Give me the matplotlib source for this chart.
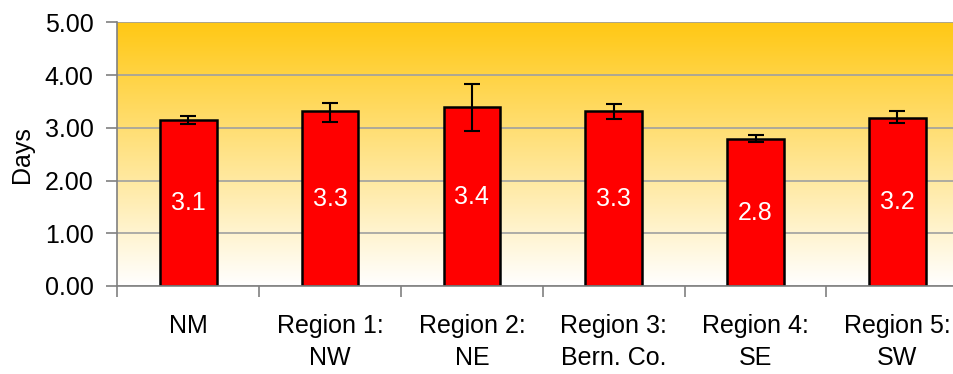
import numpy as np
import matplotlib
matplotlib.use("Agg")
import matplotlib.pyplot as plt
from matplotlib.colors import LinearSegmentedColormap

plt.rcParams['font.family'] = ['Liberation Sans', 'DejaVu Sans']

categories = ["NM", "Region 1:\nNW", "Region 2:\nNE", "Region 3:\nBern. Co.", "Region 4:\nSE", "Region 5:\nSW"]
days = [3.14, 3.31, 3.39, 3.31, 2.78, 3.18]
err_low = [0.07, 0.20, 0.45, 0.15, 0.05, 0.09]
err_high = [0.09, 0.16, 0.44, 0.14, 0.08, 0.13]
yticks = [0, 1, 2, 3, 4, 5]

FS = 18

fig = plt.figure(figsize=(9.54, 3.74), dpi=100)
ax = fig.add_axes([0.123, 0.2353, 0.892, 0.7051])

# background gradient: golden at the top fading to white at the bottom
cmap = LinearSegmentedColormap.from_list("bg", ["#FFFFFF", "#FFC814"])
grad = np.linspace(0, 1, 256).reshape(-1, 1)
ax.imshow(grad, cmap=cmap, origin="lower", aspect="auto",
          extent=[0, 1, 0, 1], transform=ax.transAxes, zorder=0)

x = np.arange(len(categories))
bars = ax.bar(x, days, width=0.4, color="#FF0000", edgecolor="black",
              linewidth=1.8, zorder=3)
ax.errorbar(x, days, yerr=[err_low, err_high], fmt="none", ecolor="black",
            elinewidth=1.5, capsize=5.5, capthick=1.5, zorder=4)

for xi, v in zip(x, days):
    ax.text(xi, v / 2, f"{v:.1f}", ha="center", va="center", color="white",
            fontsize=FS, zorder=5)

ax.set_xlim(-0.5, len(categories) - 0.5)
ax.set_ylim(0, 5)
ax.set_yticks(yticks)
ax.set_yticklabels([f"{t:.2f}" for t in yticks])
ax.yaxis.grid(True, color="#A0A0A0", linewidth=1.2, zorder=1)
ax.set_axisbelow(True)

ax.set_xticks(np.arange(len(categories) + 1) - 0.5)
ax.set_xticklabels([])
ax.set_xticks(x, minor=True)
ax.set_xticklabels(categories, minor=True, fontsize=FS, linespacing=1.42, va="top")
ax.tick_params(axis="x", which="minor", length=0, pad=20)
ax.tick_params(axis="x", which="major", length=8, width=1.2, color="#808080", direction="out")
ax.tick_params(axis="y", length=8, width=1.2, color="#808080", labelsize=FS, pad=9)

ax.set_ylabel("Days", fontsize=FS, labelpad=8)

for side in ["top", "right"]:
    ax.spines[side].set_visible(False)
for side in ["left", "bottom"]:
    ax.spines[side].set_color("#808080")
    ax.spines[side].set_linewidth(1.2)
ax.spines["bottom"].set_zorder(6)

fig.savefig("out.png", dpi=100)
